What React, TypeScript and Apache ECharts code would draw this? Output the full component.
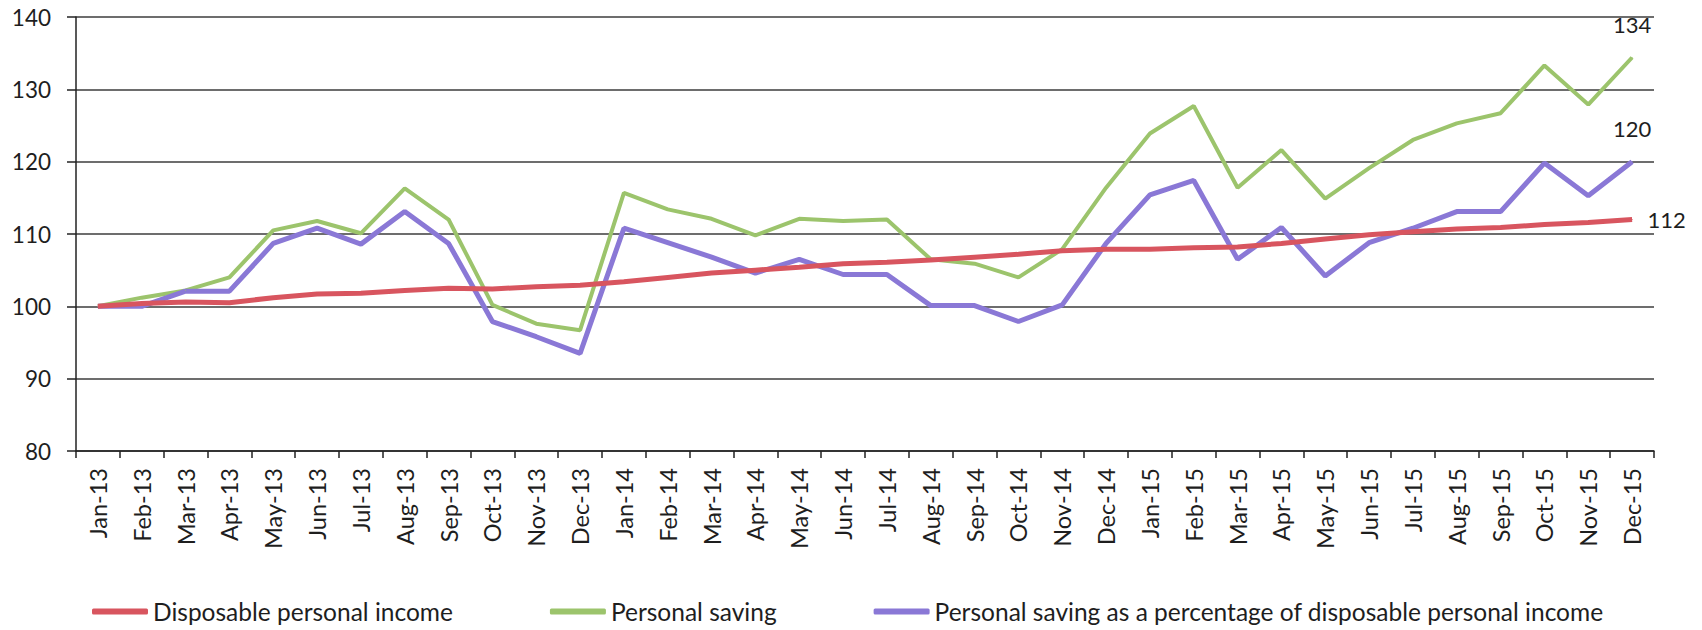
import React, { useEffect, useRef } from "react";
import * as echarts from "echarts";

const categories = [
  "Jan-13", "Feb-13", "Mar-13", "Apr-13", "May-13", "Jun-13", "Jul-13", "Aug-13", "Sep-13", "Oct-13", "Nov-13", "Dec-13",
  "Jan-14", "Feb-14", "Mar-14", "Apr-14", "May-14", "Jun-14", "Jul-14", "Aug-14", "Sep-14", "Oct-14", "Nov-14", "Dec-14",
  "Jan-15", "Feb-15", "Mar-15", "Apr-15", "May-15", "Jun-15", "Jul-15", "Aug-15", "Sep-15", "Oct-15", "Nov-15", "Dec-15",
];

const disposableIncome = [
  100, 100.4, 100.6, 100.5, 101.2, 101.7, 101.8, 102.2, 102.5, 102.4, 102.7, 102.9,
  103.4, 104.0, 104.6, 105.0, 105.4, 105.9, 106.1, 106.4, 106.8, 107.2, 107.7, 107.9,
  107.9, 108.1, 108.2, 108.7, 109.3, 109.9, 110.3, 110.7, 110.9, 111.3, 111.6, 112.0,
];

const personalSaving = [
  100, 101.2, 102.2, 104.0, 110.5, 111.8, 110.1, 116.3, 112.0, 100.2, 97.6, 96.7,
  115.7, 113.4, 112.1, 109.8, 112.1, 111.8, 112.0, 106.5, 105.9, 104.0, 107.9, 116.4,
  123.9, 127.7, 116.4, 121.6, 114.9, 119.1, 123.0, 125.3, 126.7, 133.3, 127.9, 134.4,
];

const savingPct = [
  100, 100, 102.1, 102.1, 108.7, 110.8, 108.6, 113.1, 108.7, 97.9, 95.8, 93.5,
  110.8, 108.8, 106.8, 104.6, 106.5, 104.4, 104.4, 100.1, 100.1, 97.9, 100.2, 108.7,
  115.4, 117.4, 106.5, 110.9, 104.2, 108.8, 110.8, 113.1, 113.1, 119.8, 115.3, 120.0,
];

const seriesNames = [
  "Disposable personal income",
  "Personal saving",
  "Personal saving as a percentage of disposable personal income",
];

const yTicks = { min: 80, max: 140, interval: 10 };

const FONT = "Lato, 'Open Sans', sans-serif";
const TEXT = "#1e1e1e";

function withEndLabel(values: number[], label: any) {
  return values.map((v, i) =>
    i === values.length - 1
      ? { value: v, label: { show: true, ...label } }
      : v
  );
}

export default function App() {
  const ref = useRef<HTMLDivElement>(null);

  useEffect(() => {
    if (!ref.current) return;
    const chart = echarts.init(ref.current, undefined, { renderer: "svg" });
    const labelStyle = {
      fontFamily: FONT,
      fontSize: 22,
      color: TEXT,
      formatter: (p: any) => String(Math.round(p.value)),
    };
    const lineCommon = {
      type: "line",
      symbol: "circle",
      symbolSize: 1,
      showSymbol: true,
      label: { show: false },
    };
    const option = {
      animation: false,
      backgroundColor: "#ffffff",
      grid: { left: 76, right: 48, top: 17, bottom: 179, containLabel: false },
      legend: {
        left: 92,
        top: 599,
        padding: 0,
        icon: "roundRect",
        itemWidth: 56,
        itemHeight: 6,
        itemGap: 97,
        textStyle: { fontFamily: FONT, fontSize: 24.5, color: TEXT },
        data: seriesNames,
      },
      xAxis: {
        type: "category",
        data: categories,
        boundaryGap: true,
        axisLine: { lineStyle: { color: "#222", width: 1.5 } },
        axisTick: { show: true, length: 7, lineStyle: { color: "#222", width: 1.5 } },
        axisLabel: {
          rotate: 90,
          interval: 0,
          margin: 17,
          fontFamily: FONT,
          fontSize: 23.5,
          color: TEXT,
        },
        splitLine: { show: false },
      },
      yAxis: {
        type: "value",
        min: yTicks.min,
        max: yTicks.max,
        interval: yTicks.interval,
        axisLine: { show: true, lineStyle: { color: "#222", width: 1.5 } },
        axisTick: { show: true, length: 9, lineStyle: { color: "#222", width: 1.5 } },
        axisLabel: { margin: 25, fontFamily: FONT, fontSize: 22.5, color: TEXT },
        splitLine: { show: true, lineStyle: { color: "#3c3c3c", width: 1.5 } },
      },
      series: [
        {
          ...lineCommon,
          name: seriesNames[0],
          data: withEndLabel(disposableIncome, { ...labelStyle, position: "right", distance: 15 }),
          lineStyle: { color: "#d8555f", width: 5 },
          itemStyle: { color: "#d8555f" },
          z: 3,
        },
        {
          ...lineCommon,
          name: seriesNames[1],
          data: withEndLabel(personalSaving, { ...labelStyle, position: "top", distance: 22 }),
          lineStyle: { color: "#9cc46c", width: 4 },
          itemStyle: { color: "#9cc46c" },
          z: 2,
        },
        {
          ...lineCommon,
          name: seriesNames[2],
          data: withEndLabel(savingPct, { ...labelStyle, position: "top", distance: 22 }),
          lineStyle: { color: "#8a78d6", width: 5 },
          itemStyle: { color: "#8a78d6" },
          z: 2,
        },
      ],
    };
    chart.setOption(option as any);
    return () => chart.dispose();
  }, []);

  return (
    <div
      ref={ref}
      style={{ position: "fixed", left: 0, top: 0, width: 1702, height: 630, background: "#fff" }}
    />
  );
}
